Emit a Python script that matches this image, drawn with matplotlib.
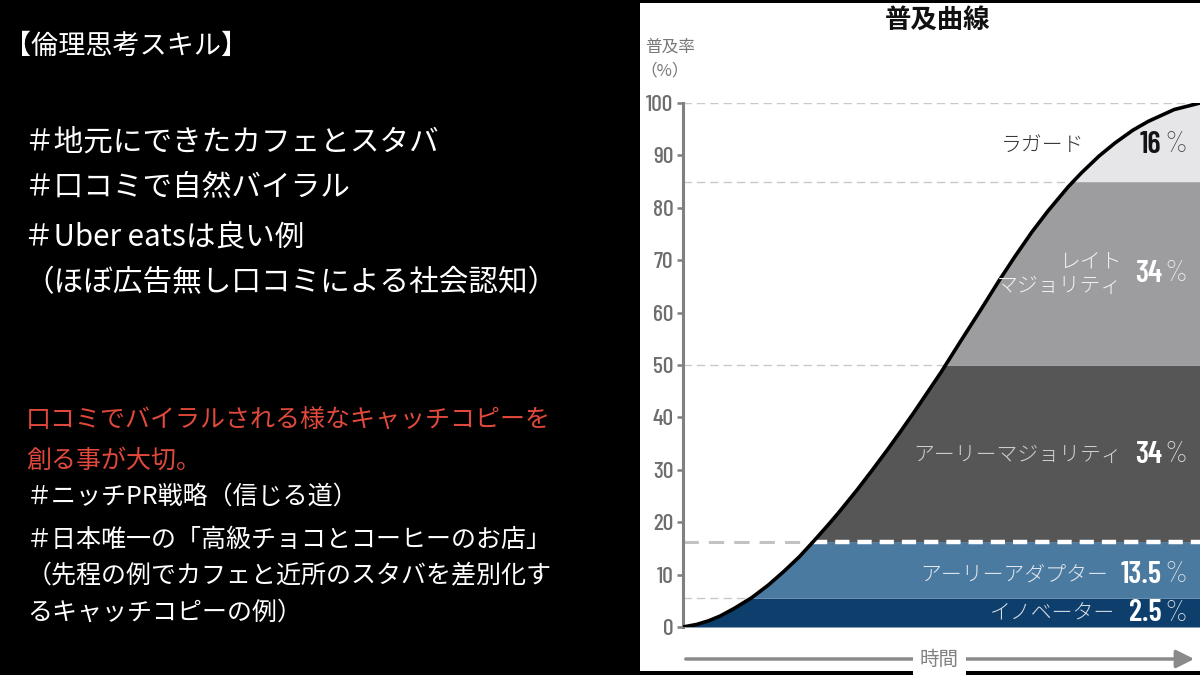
import matplotlib
matplotlib.use("Agg")
import matplotlib.pyplot as plt
from matplotlib.patches import Rectangle, FancyArrowPatch
import numpy as np

plt.rcParams['font.family'] = ['Noto Sans CJK JP', 'DejaVu Sans']

# diffusion curve (time %, adoption %)
curve_x = [0, 2.7, 5, 7.2, 10, 13.3, 16.5, 19.5, 22.5, 25.3, 28, 30, 33.7, 36.5, 39.6, 42,
           44.7, 47.3, 49.9, 53.8, 57.7, 61, 64.1, 67.5, 70.6, 74.5, 77.1, 80.5, 83.6, 87,
           90, 95, 100]
curve_y = [0, 0.5, 1.2, 2.1, 3.6, 5.6, 8.0, 10.6, 13.4, 16.4, 19.4, 21.7, 26.2, 29.8, 33.9,
           37.2, 41.0, 44.8, 48.6, 54.7, 60.7, 65.9, 70.55, 75.4, 79.4, 84.0, 86.7, 89.9,
           92.4, 94.8, 96.5, 98.75, 100]

# band edges and labels
band_edges = [0, 5.5, 16.3, 50, 85, 100]
band_colors = ['#0d3e6c', '#4b7aa0', '#575657', '#9d9d9f', '#e6e6e8']
band_names = ['イノベーター', 'アーリーアダプター', 'アーリーマジョリティ', 'レイト\nマジョリティ', 'ラガード']
band_pcts = ['2.5', '13.5', '34', '34', '16']
label_y = [2.6, 10.0, 32.9, 67.4, 92]
label_x = [83.5, 82.3, 84.9, 84.9, 77.6]
name_colors = ['#d5dbe4', '#e0e7ee', '#cfcfcf', '#f0f0f0', '#333333']
pct_colors = ['#ffffff', '#ffffff', '#ffffff', '#ffffff', '#141414']
pct_sign_colors = ['#e6e6e6', '#e6e6e6', '#e6e6e6', '#f4f4f4', '#444444']
yticks = list(range(0, 101, 10))

left_white = ['＃地元にできたカフェとスタバ', '＃口コミで自然バイラル', '＃Uber eatsは良い例',
              '（ほぼ広告無し口コミによる社会認知）']
left_white_y = [142, 187, 238, 283]
left_red = ['口コミでバイラルされる様なキャッチコピーを', '創る事が大切。']
left_red_y = [420, 461]
left_low = ['＃ニッチPR戦略（信じる道）', '＃日本唯一の「高級チョコとコーヒーのお店」',
            '（先程の例でカフェと近所のスタバを差別化す', 'るキャッチコピーの例）']
left_low_y = [497, 540, 576, 613]

W, H = 1200, 675
def fx(px):
    return px / W
def fy(py):
    return 1 - py / H

fig = plt.figure(figsize=(12, 6.75), dpi=100, facecolor='black')

# white panel behind chart
fig.add_artist(Rectangle((fx(640), fy(671)), fx(560), 668 / H, transform=fig.transFigure,
                         facecolor='white', edgecolor='none', zorder=0))

# left text
fig.text(fx(4), fy(46), '【倫理思考スキル】', color='white', fontsize=19.5, va='center')
for t, y in zip(left_white, left_white_y):
    fig.text(fx(24), fy(y), t, color='white', fontsize=21.3, va='center')
for t, y in zip(left_red, left_red_y):
    fig.text(fx(26), fy(y), t, color='#e0493b', fontsize=18, va='center')
for t, y in zip(left_low, left_low_y):
    fig.text(fx(27), fy(y), t, color='white', fontsize=18, va='center')

# chart
ax = fig.add_axes([fx(683), fy(627), 517 / W, 524 / H])
ax.set_facecolor('white')
ax.set_xlim(0, 100)
ax.set_ylim(0, 100)

cx = np.array(curve_x)
cy = np.array(curve_y)
# add the points where the curve crosses each band edge so the fills meet cleanly
cross_x = np.interp(band_edges, cy, cx)
fx_all = np.unique(np.concatenate([cx, cross_x]))
fy_all = np.interp(fx_all, cx, cy)
for i in range(len(band_colors)):
    lo, hi = band_edges[i], band_edges[i + 1]
    ax.fill_between(fx_all, lo, np.clip(fy_all, lo, hi), where=fy_all >= lo,
                    color=band_colors[i], linewidth=0, zorder=1)

# dashed guide lines up to the curve
for lev, xe in zip(band_edges[1:], cross_x[1:]):
    if lev == 16.3:
        ax.plot([0, xe], [lev, lev], color='#c2c2c2', lw=2.2, dashes=(5, 3.3), zorder=2)
        ax.plot([xe, 100], [lev, lev], color='white', lw=3.2, dashes=(3.2, 1.8), zorder=2)
    elif lev == 100:
        ax.plot([0, 100], [lev, lev], color='#c8c8c8', lw=1, dashes=(6, 3.6), zorder=2)
    else:
        ax.plot([0, xe], [lev, lev], color='#c8c8c8', lw=1, dashes=(6, 3.6), zorder=2)

ax.plot(cx, cy, color='black', lw=2.6, zorder=3, solid_capstyle='round',
        solid_joinstyle='round')

for i in range(len(band_names)):
    ax.text(label_x[i], label_y[i], band_names[i], color=name_colors[i], fontsize=15,
            ha='right', va='center', fontweight='light', linespacing=1.15,
            multialignment='right', zorder=4)
    ax.text(92.6, label_y[i], band_pcts[i], color=pct_colors[i], fontsize=22, ha='right',
            va='center', fontweight='semibold', family='Barlow Condensed', zorder=4)
    ax.text(97.6, label_y[i], '%', color=pct_sign_colors[i], fontsize=21, ha='right',
            va='center', fontweight='light', family='Barlow Condensed', zorder=4)

for s in ['top', 'right', 'bottom']:
    ax.spines[s].set_visible(False)
ax.spines['left'].set_color('#808080')
ax.spines['left'].set_linewidth(2.2)
ax.set_yticks(yticks)
ax.set_yticklabels([str(v) for v in yticks], family='Barlow Condensed', fontsize=17,
                   fontweight='medium', color='#6e6e6e')
ax.tick_params(axis='y', direction='out', length=4, width=1.8, color='#808080', pad=3)
ax.set_xticks([])

# titles
fig.text(fx(938), fy(20), '普及曲線', fontsize=19, fontweight='bold', color='#111111',
         ha='center', va='center')
fig.text(fx(645), fy(47), '普及率', fontsize=12, color='#777777', va='center')
fig.text(fx(640), fy(71), '（%）', fontsize=12, color='#777777', va='center')

# time arrow
fig.add_artist(FancyArrowPatch((fx(683), fy(659)), (fx(1197), fy(659)),
                               transform=fig.transFigure,
                               arrowstyle='-|>,head_length=0.9,head_width=0.45',
                               color='#8a8a8a', lw=2.5, mutation_scale=12))
fig.text(fx(939), fy(659), '時間', fontsize=14, color='#808080', ha='center', va='center',
         bbox=dict(facecolor='white', edgecolor='none', pad=5))

fig.savefig('out.png', dpi=100, facecolor='black')
